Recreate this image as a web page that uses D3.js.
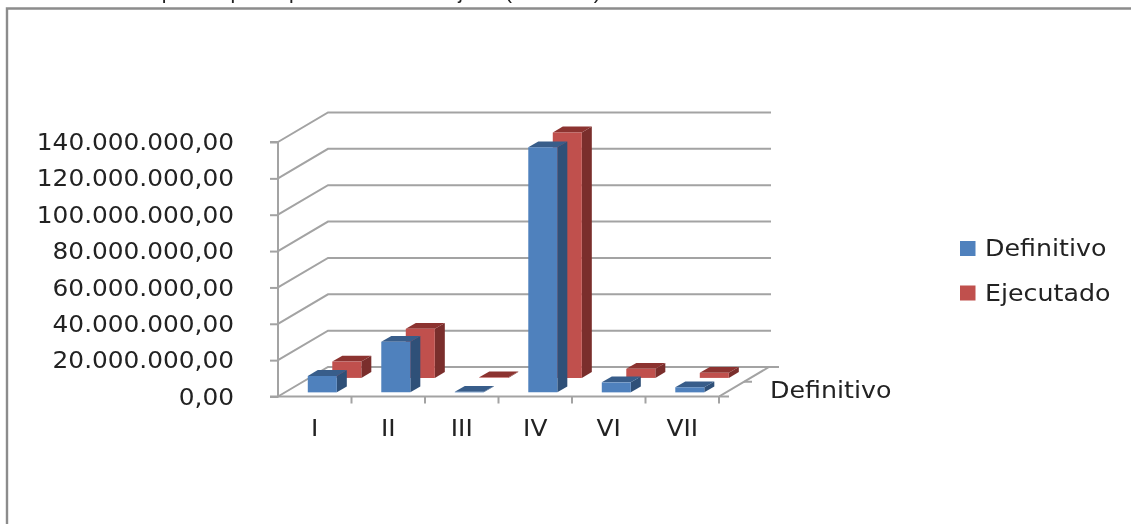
<!DOCTYPE html>
<html><head><meta charset="utf-8">
<script src="https://cdn.jsdelivr.net/npm/d3@7"></script>
<style>html,body{margin:0;background:#fff;overflow:hidden}svg{display:block;filter:blur(0.6px)}text{font-family:"DejaVu Sans",sans-serif;fill:#222}</style>
</head><body><svg id="c" width="1131" height="524"></svg>
<script>
const categories=["I","II","III","IV","VI","VII"];
const seriesNames=["Definitivo","Ejecutado"];
const definitivo=[9000000,27800000,300000,134800000,5500000,2800000];
const ejecutado=[9000000,27000000,300000,135000000,5000000,2800000];
const yTicks=[0,20000000,40000000,60000000,80000000,100000000,120000000,140000000];
const caption="Gráfica 1: Presupuesto por capítulo de la Consejería (en euros)";
const colors={Definitivo:{front:"#4F81BD",side:"#2F5078",top:"#385D8A"},Ejecutado:{front:"#C0504D",side:"#7A2E2C",top:"#8C3330"}};

const svg=d3.select("#c");
const fmt=d3.formatLocale({decimal:",",thousands:".",grouping:[3],currency:["","€"]}).format(",.2f");
const y=d3.scaleLinear().domain([0,140000000]).range([396.5,142]);
const x=d3.scaleBand().domain(categories).range([278,719]);
const dx=d3.scaleLinear().domain([0,1]).range([0,50]);
const dy=d3.scaleLinear().domain([0,1]).range([0,-29.5]);
const gridC="#a3a3a3";
const fs=23;
function stretch(sel,k){sel.each(function(){const w=this.getComputedTextLength();d3.select(this).attr("textLength",w*k).attr("lengthAdjust","spacingAndGlyphs");});}

svg.append("text").attr("x",10).attr("y",-1).attr("font-size",21).style("font-family","Liberation Sans").text(caption);
svg.append("path").attr("d","M7,524V8.5H1131").attr("fill","none").attr("stroke","#8c8c8c").attr("stroke-width",2.4);

const grid=svg.append("g").attr("fill","none").attr("stroke",gridC).attr("stroke-width",2);
yTicks.forEach(t=>{
  const p=d3.path();
  p.moveTo(x.range()[0],y(t));
  p.lineTo(x.range()[0]+dx(1),y(t)+dy(1));
  p.lineTo(t===0?779:771,y(t)+dy(1));
  grid.append("path").attr("d",p);
});
const floor=d3.path();
floor.moveTo(x.range()[0],y(0));floor.lineTo(x.range()[1],y(0));floor.lineTo(x.range()[1]+dx(1),y(0)+dy(1));
grid.append("path").attr("d",floor);
categories.forEach(c=>{
  const tx=x(c)+x.step();
  grid.append("line").attr("x1",tx).attr("x2",tx).attr("y1",y(0)).attr("y2",y(0)+7);
});
grid.append("line").attr("x1",x.range()[1]).attr("x2",x.range()[1]+10).attr("y1",y(0)).attr("y2",y(0));
grid.append("line").attr("x1",x.range()[1]+dx(.5)).attr("x2",x.range()[1]+dx(.5)+8).attr("y1",y(0)+dy(.5)).attr("y2",y(0)+dy(.5));

const ya=svg.append("g").attr("transform",`translate(${x.range()[0]},0)`)
  .call(d3.axisLeft(y).tickValues(yTicks).tickFormat(fmt).tickSize(8));
ya.selectAll("path,line").attr("stroke",gridC).attr("stroke-width",2);
ya.select(".domain").attr("d",`M-8,${y(140000000)}H0V${y(0)}H-8`).attr("fill","none");
ya.selectAll("text").attr("font-size",fs).attr("font-family","DejaVu Sans").attr("x",-44).attr("dy","0.33em").style("fill","#222").call(stretch,1.078);

const barL=0.31,barW=0.395;
function box(g,c,val,d0,col){
  const d1=d0+0.2;
  const bx0=x(c)+x.step()*barL, bx1=bx0+x.step()*barW;
  const P=(px,v,d)=>[px+dx(d),y(v)+dy(d)];
  const line=d3.line();
  const f=[P(bx0,0,d0),P(bx1,0,d0),P(bx1,val,d0),P(bx0,val,d0)];
  const s=[P(bx1,0,d0),P(bx1,0,d1),P(bx1,val,d1),P(bx1,val,d0)];
  const t=[P(bx0,val,d0),P(bx1,val,d0),P(bx1,val,d1),P(bx0,val,d1)];
  g.append("path").attr("d",line(s)+"Z").attr("fill",col.side);
  g.append("path").attr("d",line(t)+"Z").attr("fill",col.top);
  g.append("path").attr("d",line(f)+"Z").attr("fill",col.front);
}
const bars=svg.append("g");
categories.forEach((c,i)=>box(bars,c,ejecutado[i],0.63,colors.Ejecutado));
categories.forEach((c,i)=>box(bars,c,definitivo[i],0.14,colors.Definitivo));

const xa=svg.append("g").attr("transform",`translate(0,${y(0)})`).call(d3.axisBottom(x).tickSize(0).tickPadding(23));
xa.select(".domain").remove();
xa.selectAll("text").attr("font-size",fs).attr("font-family","DejaVu Sans").style("fill","#222").call(stretch,1.08);

svg.append("text").attr("x",770).attr("y",398).attr("font-size",fs).text(seriesNames[0]).call(stretch,1.1);

const leg=d3.scalePoint().domain(seriesNames).range([248.5,293]);
seriesNames.forEach(n=>{
  svg.append("rect").attr("x",960).attr("y",leg(n)-7.5).attr("width",15.5).attr("height",15).attr("fill",colors[n].front);
  svg.append("text").attr("x",985).attr("y",leg(n)+7.5).attr("font-size",fs).text(n).call(stretch,1.1);
});
</script></body></html>
